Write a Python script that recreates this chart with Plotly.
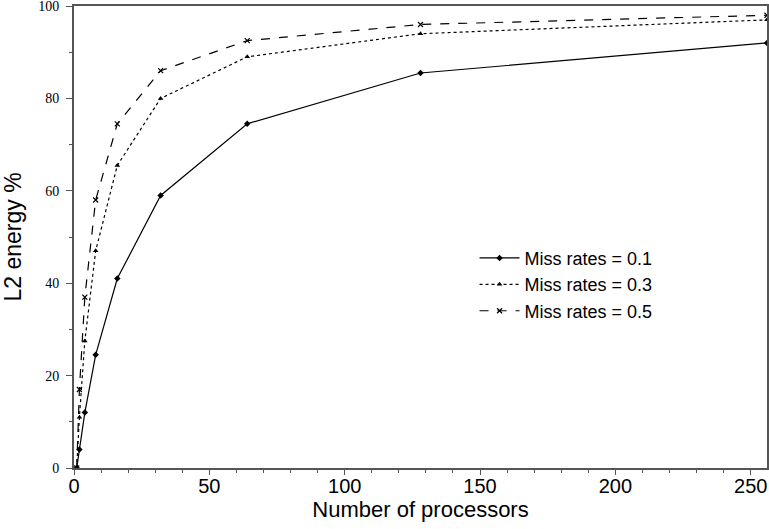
import plotly.graph_objects as go

processors = [1, 2, 4, 8, 16, 32, 64, 128, 256]
miss_01 = [0, 4, 12, 24.5, 41, 59, 74.5, 85.5, 92]
miss_03 = [0, 11, 27.5, 47, 65.5, 80, 89, 94, 97]
miss_05 = [0, 17, 37, 58, 74.5, 86, 92.5, 96, 98]

x_ticks = [0, 50, 100, 150, 200, 250]
y_ticks = [0, 20, 40, 60, 80, 100]

SANS = "Liberation Sans, Arial"
SERIF = "Liberation Serif, Times New Roman"

fig = go.Figure()
fig.add_trace(go.Scatter(x=processors, y=miss_01, mode="lines+markers",
                         name="Miss rates = 0.1",
                         line=dict(color="black", width=1.2, dash="solid"),
                         marker=dict(symbol="diamond", size=5, color="black")))
fig.add_trace(go.Scatter(x=processors, y=miss_03, mode="lines+markers",
                         name="Miss rates = 0.3",
                         line=dict(color="black", width=1.2, dash="dot"),
                         marker=dict(symbol="triangle-up", size=5, color="black")))
fig.add_trace(go.Scatter(x=processors, y=miss_05, mode="lines+markers",
                         name="Miss rates = 0.5",
                         line=dict(color="black", width=1.2, dash="dash"),
                         marker=dict(symbol="x-thin", size=5, color="black",
                                     line=dict(color="black", width=1.2))))

fig.update_layout(
    width=769, height=529,
    margin=dict(l=74, r=2, t=6, b=61),
    plot_bgcolor="white", paper_bgcolor="white",
    showlegend=True,
    legend=dict(x=0.578, y=0.494, xanchor="left", yanchor="top",
                font=dict(family=SANS, size=18, color="black"),
                bgcolor="rgba(0,0,0,0)", tracegroupgap=0, itemwidth=40),
    font=dict(family=SANS, color="black"),
)
fig.update_xaxes(
    range=[0, 256], tickvals=x_ticks, ticktext=[str(v) for v in x_ticks],
    showgrid=False, zeroline=False, automargin=False,
    showline=True, linecolor="#555555", linewidth=2, mirror=True,
    ticks="outside", ticklen=5, tickcolor="#555555", tickwidth=1,
    minor=dict(dtick=10, ticks="outside", ticklen=3, tickcolor="#555555"),
    tickfont=dict(family=SANS, size=20, color="black"),
    ticklabelstandoff=-6, ticklabeloverflow="allow",
    title=dict(text="Number of processors", standoff=3,
               font=dict(family=SANS, size=22, color="black")),
)
fig.update_yaxes(
    range=[0, 100], tickvals=y_ticks, ticktext=[str(v) for v in y_ticks],
    showgrid=False, zeroline=False, automargin=False,
    showline=True, linecolor="#555555", linewidth=2, mirror=True,
    ticks="outside", ticklen=6, tickcolor="#555555", tickwidth=1,
    minor=dict(dtick=10, ticks="outside", ticklen=3, tickcolor="#555555"),
    tickfont=dict(family=SERIF, size=14, color="black"),
    ticklabelstandoff=4, ticklabeloverflow="allow",
    title=dict(text="L2 energy %", standoff=22,
               font=dict(family=SANS, size=23, color="black")),
)

fig.write_html("out.html",
               config={"displayModeBar": False},
               post_script="document.body.style.margin='0';document.body.style.overflow='hidden';")
